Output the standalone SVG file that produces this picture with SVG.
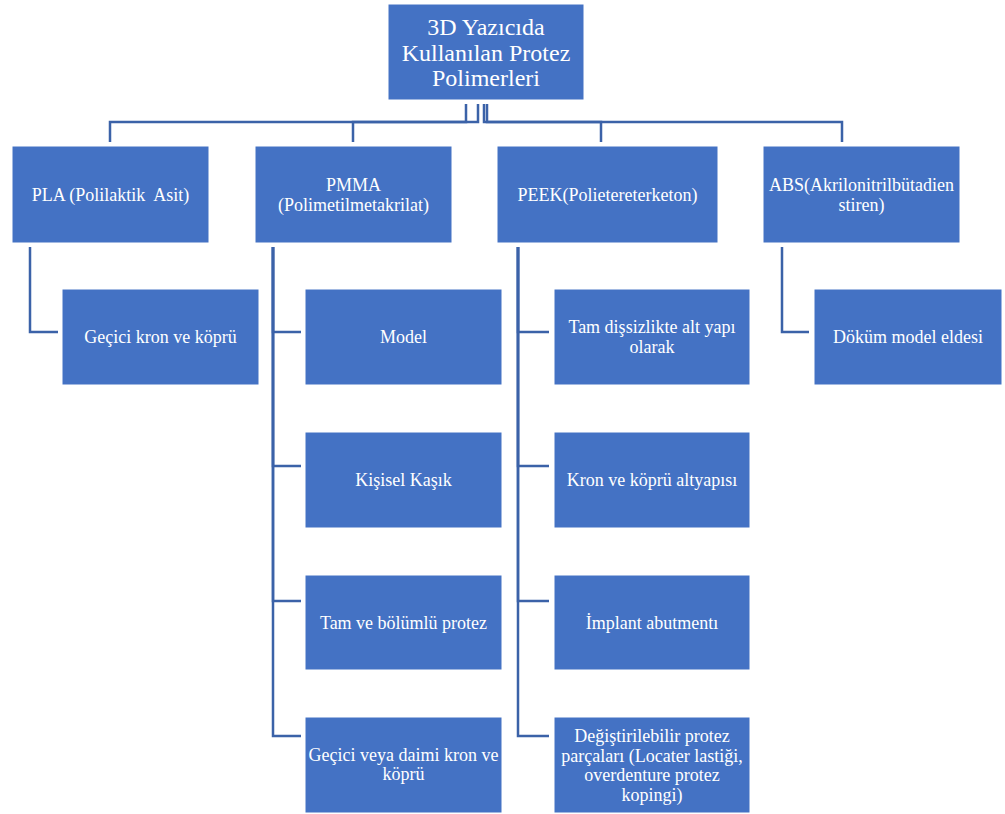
<svg xmlns="http://www.w3.org/2000/svg" width="1005" height="814" viewBox="0 0 1005 814">
<style>
.box{fill:#4472C4;stroke:#ffffff;stroke-width:1}
.t{font-family:"Liberation Serif","Times New Roman",serif;fill:#ffffff;font-size:18px;text-anchor:middle}
.root{font-size:24px}
.c{fill:none;stroke:#3B62A8;stroke-width:2.5}
</style>
<rect width="1005" height="814" fill="#ffffff"/>
<g id="connectors">
<path class="c" d="M466,104 V122 H110 V142"/>
<path class="c" d="M478,104 V122 H353 V142"/>
<path class="c" d="M484,104 V122 H601 V142"/>
<path class="c" d="M487,104 V122 H842 V142"/>
<path class="c" d="M30,247 V332 H58"/>
<path class="c" d="M273,247 V332 H301"/>
<path class="c" d="M273,247 V466 H301"/>
<path class="c" d="M273,247 V601 H301"/>
<path class="c" d="M273,247 V736 H301"/>
<path class="c" d="M518,247 V332 H549"/>
<path class="c" d="M518,247 V466 H549"/>
<path class="c" d="M518,247 V601 H549"/>
<path class="c" d="M518,247 V736 H549"/>
<path class="c" d="M782,247 V332 H809"/>
</g>
<g id="root">
<rect class="box" x="388" y="4" width="196" height="96"/>
<text class="t root" x="486" y="35">3D Yazıcıda</text>
<text class="t root" x="486" y="61">Kullanılan Protez</text>
<text class="t root" x="486" y="86">Polimerleri</text>
</g>
<g id="pla">
<rect class="box" x="12" y="146" width="197" height="97"/>
<text class="t" x="110.5" y="201" xml:space="preserve">PLA (Polilaktik  Asit)</text>
</g>
<g id="pmma">
<rect class="box" x="255" y="146" width="197" height="97"/>
<text class="t" x="353.5" y="191">PMMA</text>
<text class="t" x="353.5" y="211">(Polimetilmetakrilat)</text>
</g>
<g id="peek">
<rect class="box" x="497" y="146" width="221" height="97"/>
<text class="t" x="607.5" y="201">PEEK(Polietereterketon)</text>
</g>
<g id="abs">
<rect class="box" x="763" y="146" width="197" height="97"/>
<text class="t" x="861.5" y="191">ABS(Akrilonitrilbütadien</text>
<text class="t" x="861.5" y="211">stiren)</text>
</g>
<g id="pla-1">
<rect class="box" x="62" y="289" width="197" height="96"/>
<text class="t" x="160.5" y="343">Geçici kron ve köprü</text>
</g>
<g id="pmma-1">
<rect class="box" x="305" y="289" width="197" height="96"/>
<text class="t" x="403.5" y="343">Model</text>
</g>
<g id="pmma-2">
<rect class="box" x="305" y="432" width="197" height="96"/>
<text class="t" x="403.5" y="486">Kişisel Kaşık</text>
</g>
<g id="pmma-3">
<rect class="box" x="305" y="575" width="197" height="95"/>
<text class="t" x="403.5" y="629">Tam ve bölümlü protez</text>
</g>
<g id="pmma-4">
<rect class="box" x="305" y="717" width="197" height="96"/>
<text class="t" x="403.5" y="761">Geçici veya daimi kron ve</text>
<text class="t" x="403.5" y="780">köprü</text>
</g>
<g id="peek-1">
<rect class="box" x="554" y="289" width="196" height="96"/>
<text class="t" x="652" y="333">Tam dişsizlikte alt yapı</text>
<text class="t" x="652" y="353">olarak</text>
</g>
<g id="peek-2">
<rect class="box" x="554" y="432" width="196" height="96"/>
<text class="t" x="652" y="486">Kron ve köprü altyapısı</text>
</g>
<g id="peek-3">
<rect class="box" x="554" y="575" width="196" height="95"/>
<text class="t" x="652" y="629">İmplant abutmentı</text>
</g>
<g id="peek-4">
<rect class="box" x="554" y="717" width="196" height="96"/>
<text class="t" x="652" y="742">Değiştirilebilir protez</text>
<text class="t" x="652" y="762">parçaları (Locater lastiği,</text>
<text class="t" x="652" y="781">overdenture protez</text>
<text class="t" x="652" y="801">kopingi)</text>
</g>
<g id="abs-1">
<rect class="box" x="814" y="289" width="188" height="96"/>
<text class="t" x="908" y="343">Döküm model eldesi</text>
</g>
</svg>
